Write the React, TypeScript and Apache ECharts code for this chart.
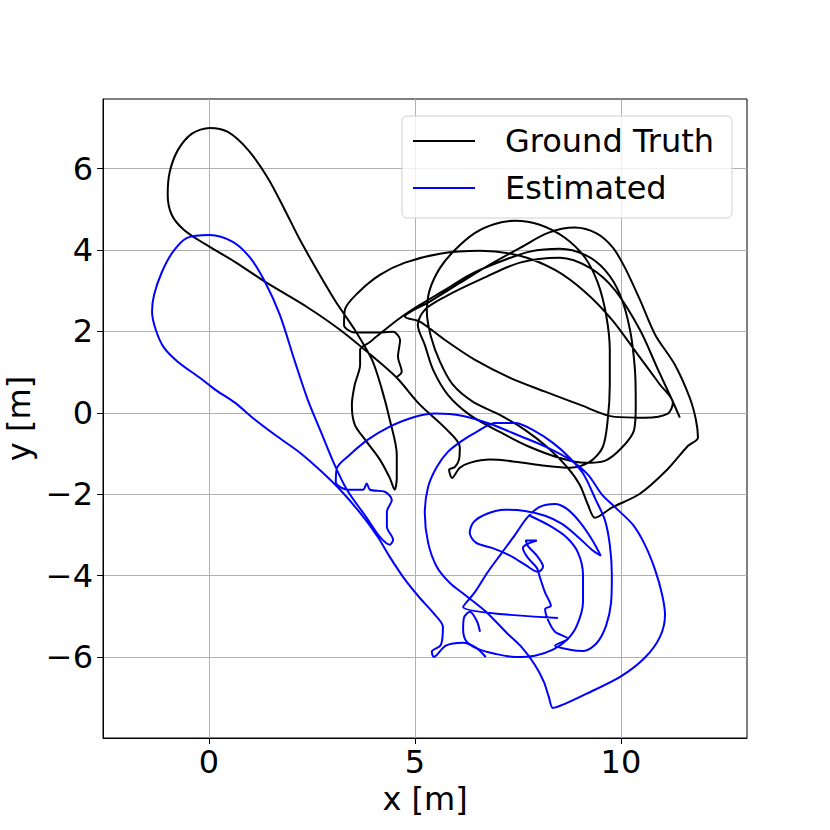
import React, { useEffect, useRef } from "react";
import * as echarts from "echarts";

// Ground-truth trajectory [x (m), y (m)]
const groundTruth: number[][] = [
  [4.56,0.88],[4.68,1.01],[4.59,1.38],[4.64,1.79],[4.47,1.99],[4.03,1.97],[3.54,1.97],[3.28,2.16],[3.30,2.53],[3.62,2.95],
  [4.15,3.39],[4.76,3.69],[5.61,3.91],[6.58,3.98],[7.55,3.86],[8.40,3.51],[9.13,2.97],[9.78,2.29],[10.41,1.43],[10.95,0.69],
  [11.26,0.25],[11.14,-0.02],[10.58,-0.12],[9.85,-0.10],[9.00,0.20],[8.16,0.52],[7.31,0.86],[6.46,1.30],[5.73,1.79],[5.12,2.24],
  [4.76,2.36],[5.36,2.73],[6.09,3.19],[6.82,3.64],[7.55,4.05],[8.23,4.42],[8.88,4.55],[9.42,4.40],[9.81,4.05],[10.10,3.56],
  [10.46,2.78],[10.83,1.92],[11.31,1.18],[11.67,0.37],[11.82,-0.17],[11.87,-0.61],[11.63,-0.81],[11.12,-1.40],[10.46,-1.99],[9.78,-2.33],
  [9.37,-2.58],[9.20,-2.26],[9.00,-1.77],[8.69,-1.33],[8.23,-0.86],[7.67,-0.42],[7.06,-0.05],[6.41,0.27],[5.92,0.69],[5.61,1.25],
  [5.39,1.87],[5.29,2.48],[5.36,3.02],[5.61,3.56],[5.97,4.00],[6.46,4.42],[6.94,4.64],[7.43,4.72],[8.03,4.62],[8.64,4.30],
  [9.13,3.81],[9.44,3.19],[9.64,2.41],[9.73,1.55],[9.73,0.69],[9.68,-0.17],[9.56,-0.84],[9.25,-1.20],[8.76,-1.35],[8.16,-1.30],
  [7.43,-1.20],[6.82,-1.15],[6.33,-1.23],[6.09,-1.35],[5.90,-1.60],[5.83,-1.40],[5.97,-1.33],[6.07,-1.15],[6.09,-0.84],[5.73,-0.37],
  [5.12,0.20],[4.56,0.86],[3.98,1.38],[3.18,2.04],[2.38,2.60],[1.41,3.19],[0.63,3.71],[-0.10,4.15],[-0.61,4.50],[-0.90,4.86],
  [-1.00,5.36],[-0.95,5.92],[-0.75,6.46],[-0.41,6.86],[0.02,7.00],[0.46,6.90],[0.95,6.46],[1.43,5.77],[1.84,4.99],[2.21,4.25],
  [2.65,3.46],[3.08,2.73],[3.54,2.04],[3.96,1.30],[4.20,0.57],[4.39,-0.17],[4.56,-1.03],[4.56,-1.60],[4.51,-1.89],[4.39,-1.60],
  [4.15,-1.15],[3.79,-0.66],[3.54,-0.29],[3.47,0.20],[3.54,0.69],[3.67,1.18],[3.67,1.55],[3.91,1.74],[4.27,2.04],[4.64,2.33],
  [5.12,2.65],[5.73,3.02],[6.33,3.39],[7.06,3.71],[7.79,3.96],[8.52,4.03],[9.13,3.88],[9.61,3.51],[9.98,2.90],[10.22,2.04],
  [10.34,1.06],[10.36,0.20],[10.32,-0.42],[10.02,-0.86],[9.61,-1.18],[9.13,-1.23],[8.52,-1.11],[7.79,-0.84],[7.06,-0.47],[6.33,-0.05],
  [5.80,0.44],[5.44,1.06],[5.24,1.67],[5.07,2.16],[5.24,2.53],[5.73,2.85],[6.58,3.27],[7.55,3.69],[8.52,3.81],[9.25,3.56],
  [9.85,3.02],[10.46,2.04],[10.90,1.06],[11.24,0.32],[11.43,-0.12]
];

// Estimated trajectory, main part [x (m), y (m)]
const estimatedMain: number[][] = [
  [8.47,-5.04],[6.17,-4.77],[6.46,-4.40],[6.77,-3.91],[7.11,-3.44],[7.43,-3.00],[7.72,-2.58],[8.03,-2.31],[8.40,-2.24],[8.69,-2.36],
  [9.00,-2.68],[9.30,-3.12],[9.51,-3.51],[9.30,-3.37],[8.96,-3.05],[8.57,-2.73],[8.16,-2.53],[7.67,-2.41],[7.18,-2.38],[6.75,-2.48],
  [6.43,-2.68],[6.33,-2.95],[6.48,-3.19],[6.87,-3.32],[7.31,-3.51],[7.67,-3.73],[7.99,-3.91],[8.11,-3.78],[7.96,-3.51],[7.74,-3.27],
  [7.69,-3.14],[7.96,-3.14],[7.74,-3.22],[7.62,-3.32],[7.74,-3.56],[7.96,-3.81],[8.03,-4.03],[8.16,-4.42],[8.30,-4.74],[8.16,-4.82],
  [8.23,-5.09],[8.40,-5.38],[8.71,-5.55],[8.40,-5.72],[8.76,-5.82],[9.10,-5.85],[9.42,-5.65],[9.64,-5.23],[9.76,-4.67],[9.78,-3.98],
  [9.73,-3.24],[9.61,-2.63],[9.39,-2.14],[9.10,-1.52],[8.76,-1.11],[8.35,-0.74],[7.86,-0.42],[7.43,-0.25],[6.94,-0.25],[6.50,-0.47],
  [6.14,-0.69],[5.80,-0.96],[5.53,-1.33],[5.32,-1.82],[5.24,-2.46],[5.32,-3.19],[5.53,-3.78],[5.85,-4.18],[6.21,-4.47],[6.75,-4.91],
  [7.23,-5.41],[7.60,-5.77],[7.91,-6.19],[8.13,-6.61],[8.25,-6.98],[8.35,-7.25],[8.64,-7.15],[9.17,-6.90],[9.98,-6.49],[10.58,-6.02],
  [10.95,-5.50],[11.07,-4.96],[11.00,-4.47],[10.83,-3.86],[10.58,-3.24],[10.29,-2.75],[9.90,-2.36],[9.54,-2.01],[9.20,-1.52],[8.76,-1.15],
  [8.23,-0.86],[7.55,-0.57],[6.82,-0.27],[6.14,-0.07],[5.49,-0.02],[4.93,-0.12],[4.39,-0.34],[3.86,-0.66],[3.42,-1.03],[3.11,-1.35],
  [3.08,-1.70],[3.37,-1.89],[3.74,-1.89],[3.83,-1.74],[3.91,-1.89],[4.27,-1.94],[4.44,-2.14],[4.32,-2.43],[4.32,-2.80],[4.47,-3.12],
  [4.39,-3.24],[4.15,-3.05],[3.83,-2.58],[3.35,-1.89],[3.03,-1.23],[2.72,-0.47],[2.40,0.32],[2.09,1.25],[1.72,2.41],[1.36,3.22],
  [1.00,3.81],[0.58,4.20],[0.02,4.37],[-0.53,4.30],[-0.87,3.96],[-1.14,3.46],[-1.33,2.90],[-1.38,2.48],[-1.29,2.04],[-1.09,1.60],
  [-0.75,1.25],[-0.22,0.86],[0.15,0.57],[0.63,0.25],[1.12,-0.17],[1.67,-0.59],[2.21,-0.98],[2.74,-1.45],[3.23,-1.94],[3.71,-2.51],
  [4.10,-3.05],[4.39,-3.54],[4.76,-4.10],[5.12,-4.55],[5.44,-4.91],[5.68,-5.26],[5.63,-5.70],[5.41,-5.87],[5.46,-6.00],[5.75,-5.72],
  [6.17,-5.65],[6.48,-5.77],[6.72,-6.00]
];

// Estimated trajectory, inner loop with its short tail [x (m), y (m)]
const estimatedInner: number[][] = [
  [6.58,-5.38],[6.50,-5.11],[6.33,-4.89],[6.19,-5.04],[6.17,-5.33],[6.26,-5.63],[6.53,-5.80],[6.94,-5.92],[7.43,-6.00],[7.91,-5.97],
  [8.35,-5.82],[8.69,-5.58],[8.93,-5.23],[9.08,-4.64],[9.08,-3.98],[8.96,-3.44],[8.69,-3.07],[8.28,-2.78],[7.79,-2.53]
];

const xTicks = [0, 5, 10];
const yTicks = [-6, -4, -2, 0, 2, 4, 6];
const xRange = [-2.57, 13.06];
const yRange = [-7.99, 7.71];
const seriesNames = ["Ground Truth", "Estimated"];

const FONT = "DejaVu Sans";
const FS = 32;

const fmt = (v: number) => String(v).replace("-", "\u2212");

export default function App() {
  const ref = useRef<HTMLDivElement>(null);
  useEffect(() => {
    if (!ref.current) return;
    const chart = echarts.init(ref.current, undefined, { renderer: "svg" });
    const axisCommon = (ticks: number[]) => ({
      type: "value" as const,
      axisLine: { show: true, onZero: false, lineStyle: { color: "#000", width: 1 } },
      axisTick: { show: true, inside: false, length: 6, customValues: ticks, lineStyle: { color: "#000", width: 1 } },
      splitLine: { show: true, lineStyle: { color: "#b0b0b0", width: 1 } },
      nameLocation: "middle" as const,
      nameTextStyle: { fontSize: FS, color: "#000", fontFamily: FONT },
    });
    const lineIcon = "path://M0,0 H62 V2 H0 Z";
    chart.setOption({
      animation: false,
      backgroundColor: "#fff",
      grid: {
        left: 103, right: 83, top: 99, bottom: 92,
        containLabel: false,
        outerBoundsMode: "none",
        show: true, borderColor: "#000", borderWidth: 1, backgroundColor: "transparent",
      },
      xAxis: {
        ...axisCommon(xTicks),
        min: xRange[0],
        max: xRange[1],
        name: "x [m]",
        nameGap: 42,
        axisLabel: { customValues: xTicks, fontSize: FS, color: "#000", fontFamily: FONT, margin: 8, formatter: fmt },
      },
      yAxis: {
        ...axisCommon(yTicks),
        min: yRange[0],
        max: yRange[1],
        name: "y [m]",
        nameGap: 57,
        axisLabel: { customValues: yTicks, fontSize: FS, color: "#000", fontFamily: FONT, margin: 10, formatter: fmt },
      },
      legend: {
        data: [
          { name: seriesNames[0], icon: lineIcon },
          { name: seriesNames[1], icon: lineIcon },
        ],
        orient: "vertical",
        left: 402,
        top: 116,
        itemWidth: 62,
        itemHeight: 32,
        itemGap: 15,
        padding: [9, 18, 14, 11],
        borderColor: "#d0d0d0",
        borderWidth: 1,
        borderRadius: 5,
        backgroundColor: "rgba(255,255,255,0.8)",
        textStyle: { fontSize: FS, color: "#000", fontFamily: FONT, padding: [0, 0, 0, 25] },
        z: 10,
      },
      series: [
        {
          name: seriesNames[0],
          type: "line",
          data: groundTruth,
          symbol: "none",
          showSymbol: false,
          smooth: 0.3,
          lineStyle: { color: "#000000", width: 2 },
          itemStyle: { color: "#000000" },
        },
        {
          name: seriesNames[1],
          type: "line",
          data: estimatedMain,
          symbol: "none",
          showSymbol: false,
          smooth: 0.3,
          lineStyle: { color: "#0000ff", width: 2 },
          itemStyle: { color: "#0000ff" },
        },
        {
          name: seriesNames[1],
          type: "line",
          data: estimatedInner,
          symbol: "none",
          showSymbol: false,
          smooth: 0.3,
          lineStyle: { color: "#0000ff", width: 2 },
          itemStyle: { color: "#0000ff" },
        },
      ],
    });
    return () => chart.dispose();
  }, []);
  return <div ref={ref} style={{ position: "fixed", left: 0, top: 0, width: 830, height: 830, background: "#fff" }} />;
}
